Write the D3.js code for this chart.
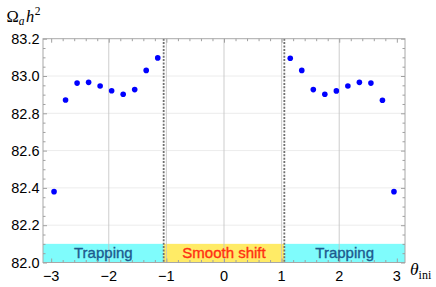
<!DOCTYPE html>
<html>
<head>
<meta charset="utf-8">
<script src="https://cdn.jsdelivr.net/npm/d3@7"></script>
<style>
  html, body { margin: 0; padding: 0; background: #fff; }
  svg { display: block; }
</style>
</head>
<body>
<script>
// ---- data ----
const thetaLeft = [-2.95, -2.75, -2.55, -2.35, -2.15, -1.95, -1.75, -1.55, -1.35, -1.15];
const omegaLeft = [82.38, 82.871, 82.962, 82.966, 82.946, 82.921, 82.902, 82.927, 83.030, 83.097];
const thetaRight = [1.15, 1.35, 1.55, 1.75, 1.95, 2.15, 2.35, 2.55, 2.75, 2.95];
const omegaRight = [83.095, 83.030, 82.927, 82.902, 82.920, 82.946, 82.966, 82.962, 82.870, 82.38];
const xTicks = [-3, -2, -1, 0, 1, 2, 3];
const yTicks = [82.0, 82.2, 82.4, 82.6, 82.8, 83.0, 83.2];
const xGrid = [-2, -1, 0, 1, 2];
const yGrid = [82.2, 82.4, 82.6, 82.8, 83.0];
const regionNames = ["Trapping", "Smooth shift", "Trapping"];
const regionStart = [-Math.PI, -Math.PI / 3, Math.PI / 3];
const regionEnd = [-Math.PI / 3, Math.PI / 3, Math.PI];
const boundaries = [-Math.PI / 3, Math.PI / 3];
const bandTop = 82.1;

// ---- layout ----
const W = 436, H = 287;
const L = 43, R = 405, T = 38.7, B = 262.5;
const svg = d3.select("body").append("svg").attr("width", W).attr("height", H);

const x = d3.scaleLinear().domain([-Math.PI, Math.PI]).range([L, R]);
const y = d3.scaleLinear().domain([82.0, 83.2]).range([B, T]);

const regionFill = ["#7ffcfc", "#ffeb66", "#7ffcfc"];
const regionText = ["#1d5a8e", "#ff2f12", "#1d5a8e"];

// horizontal grid
svg.append("g").selectAll("line").data(yGrid).join("line")
  .attr("x1", L).attr("x2", R)
  .attr("y1", d => y(d)).attr("y2", d => y(d))
  .attr("stroke", "#ececec").attr("stroke-width", 1);

// bands
const bands = svg.append("g");
regionNames.forEach((n, i) => {
  bands.append("rect")
    .attr("x", x(regionStart[i])).attr("width", x(regionEnd[i]) - x(regionStart[i]))
    .attr("y", y(bandTop)).attr("height", y(82.0) - y(bandTop))
    .attr("fill", regionFill[i]);
});

// vertical grid
svg.append("g").selectAll("line").data(xGrid).join("line")
  .attr("x1", d => x(d)).attr("x2", d => x(d))
  .attr("y1", T).attr("y2", B)
  .attr("stroke", "#c4c4c4").attr("stroke-opacity", 0.85).attr("stroke-width", 1);

// band labels
regionNames.forEach((n, i) => {
  svg.append("text")
    .attr("x", (x(regionStart[i]) + x(regionEnd[i])) / 2)
    .attr("y", 258)
    .attr("text-anchor", "middle")
    .attr("font-family", "Liberation Sans, Arial, sans-serif")
    .attr("font-size", 15)
    .attr("fill", regionText[i])
    .attr("stroke", regionText[i]).attr("stroke-width", 0.35)
    .text(n);
});

// dashed boundaries
svg.append("g").selectAll("line").data(boundaries).join("line")
  .attr("x1", d => x(d)).attr("x2", d => x(d))
  .attr("y1", T).attr("y2", B)
  .attr("stroke", "#707070").attr("stroke-width", 1.8)
  .attr("stroke-dasharray", "2,1.4");

// frame
svg.append("rect").attr("x", L).attr("y", T).attr("width", R - L).attr("height", B - T)
  .attr("fill", "none").attr("stroke", "#a8a8a8").attr("stroke-width", 1);

// axes with ticks (inward)
const tickColor = "#a0a0a0";
function styleAxis(g) {
  g.select(".domain").remove();
  g.selectAll(".tick line").attr("stroke", tickColor);
}
const xMinorAll = d3.range(-15, 16).map(v => v * 0.2).filter(v => Math.abs(v - Math.round(v)) > 1e-6);
const yMinor = d3.range(0, 25).map(v => 82 + v * 0.05).filter(v => Math.abs(v * 5 - Math.round(v * 5)) > 1e-6);

svg.append("g").attr("transform", `translate(0,${B})`)
  .call(d3.axisBottom(x).tickValues(xTicks).tickSizeInner(-4).tickSizeOuter(0).tickFormat(""))
  .call(styleAxis);
svg.append("g").attr("transform", `translate(0,${B})`)
  .call(d3.axisBottom(x).tickValues(xMinorAll).tickSizeInner(-2.5).tickSizeOuter(0).tickFormat(""))
  .call(styleAxis);
svg.append("g").attr("transform", `translate(0,${T})`)
  .call(d3.axisTop(x).tickValues(xTicks).tickSizeInner(-4).tickSizeOuter(0).tickFormat(""))
  .call(styleAxis);
svg.append("g").attr("transform", `translate(0,${T})`)
  .call(d3.axisTop(x).tickValues(xMinorAll).tickSizeInner(-2.5).tickSizeOuter(0).tickFormat(""))
  .call(styleAxis);
svg.append("g").attr("transform", `translate(${L},0)`)
  .call(d3.axisLeft(y).tickValues(yTicks).tickSizeInner(-4).tickSizeOuter(0).tickFormat(""))
  .call(styleAxis);
svg.append("g").attr("transform", `translate(${L},0)`)
  .call(d3.axisLeft(y).tickValues(yMinor).tickSizeInner(-2.5).tickSizeOuter(0).tickFormat(""))
  .call(styleAxis);
svg.append("g").attr("transform", `translate(${R},0)`)
  .call(d3.axisRight(y).tickValues(yTicks).tickSizeInner(-4).tickSizeOuter(0).tickFormat(""))
  .call(styleAxis);
svg.append("g").attr("transform", `translate(${R},0)`)
  .call(d3.axisRight(y).tickValues(yMinor).tickSizeInner(-2.5).tickSizeOuter(0).tickFormat(""))
  .call(styleAxis);

// tick labels
svg.append("g").selectAll("text").data(xTicks).join("text")
  .attr("x", d => x(d)).attr("y", 280.5)
  .attr("text-anchor", "middle")
  .attr("font-family", "Liberation Sans, Arial, sans-serif").attr("font-size", 14.5)
  .attr("fill", "#000")
  .text(d => d < 0 ? "\u2212" + Math.abs(d) : String(d));
svg.append("g").selectAll("text").data(yTicks).join("text")
  .attr("x", 39.5).attr("y", d => y(d)).attr("dy", "0.36em")
  .attr("text-anchor", "end")
  .attr("font-family", "Liberation Sans, Arial, sans-serif").attr("font-size", 14.5)
  .attr("fill", "#000")
  .text(d => d3.format(".1f")(d));

// points
const pts = thetaLeft.map((t, i) => [t, omegaLeft[i]]).concat(thetaRight.map((t, i) => [t, omegaRight[i]]));
svg.append("g").selectAll("circle").data(pts).join("circle")
  .attr("cx", d => x(d[0])).attr("cy", d => y(d[1])).attr("r", 2.8)
  .attr("fill", "#0000ff");

// axis labels
const yl = svg.append("text").attr("x", 6.5).attr("y", 21.5)
  .attr("font-family", "Liberation Serif, Times New Roman, serif").attr("font-size", 16.5).attr("fill", "#000");
yl.append("tspan").text("\u03A9");
yl.append("tspan").attr("font-style", "italic").attr("font-size", 11.5).attr("dy", 3).text("a");
yl.append("tspan").attr("font-style", "italic").attr("dy", -3).attr("dx", 1.5).text("h");
yl.append("tspan").attr("font-size", 11.5).attr("dy", -7).attr("dx", 0.5).text("2");

const xl = svg.append("text").attr("x", 410).attr("y", 275)
  .attr("font-family", "Liberation Serif, Times New Roman, serif").attr("font-size", 17.5).attr("fill", "#000");
xl.append("tspan").attr("font-style", "italic").text("\u03B8");
xl.append("tspan").attr("font-size", 12).attr("dy", 3.5).text("ini");
</script>
</body>
</html>
